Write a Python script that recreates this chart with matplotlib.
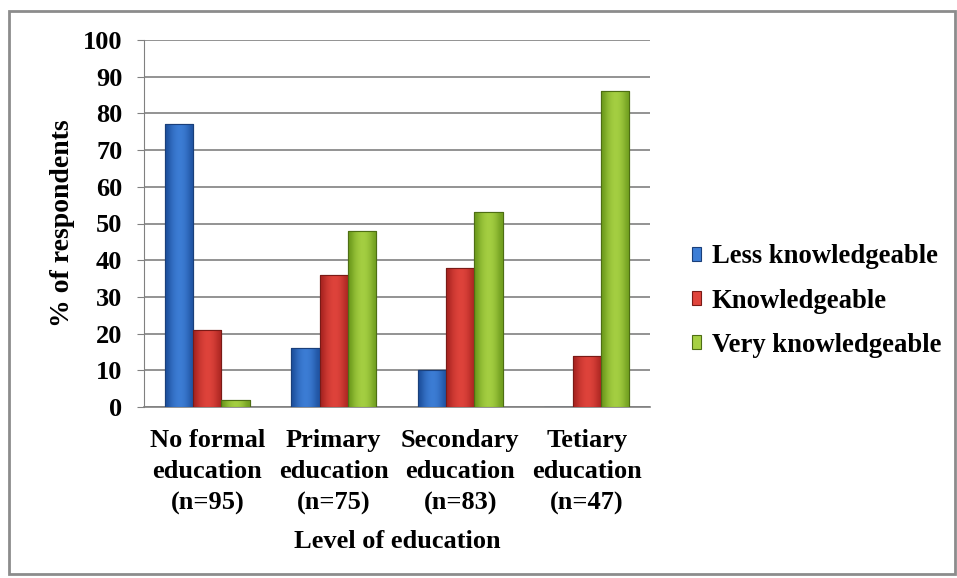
import numpy as np
import matplotlib
matplotlib.use("Agg")
import matplotlib.pyplot as plt
from matplotlib.colors import LinearSegmentedColormap
from matplotlib.patches import Rectangle

plt.rcParams['font.family'] = ['Liberation Serif', 'DejaVu Serif']
plt.rcParams['font.weight'] = 'bold'

categories = ["No formal\neducation\n(n=95)", "Primary\neducation\n(n=75)",
              "Secondary\neducation\n(n=83)", "Tetiary\neducation\n(n=47)"]
series_names = ["Less knowledgeable", "Knowledgeable", "Very knowledgeable"]
less_knowledgeable = [77, 16, 10, 0]
knowledgeable = [21, 36, 38, 14]
very_knowledgeable = [2, 48, 53, 86]
yticks = [0, 10, 20, 30, 40, 50, 60, 70, 80, 90, 100]

# (edge, centre, outline) shades for the shaded bars
shades = [("#1d4f9c", "#3d7ed6", "#1a3f7a"),
          ("#a82420", "#e0443c", "#7a1a16"),
          ("#6c9a1c", "#a6d043", "#4e6e14")]

fig = plt.figure(figsize=(9.57, 5.78), dpi=100)
fig.patch.set_facecolor("white")
fig.patches.append(Rectangle((9 / 957, 4 / 578), 946 / 957, 563 / 578,
                             transform=fig.transFigure, fill=False,
                             edgecolor="#8c8c8c", linewidth=2))

ax = fig.add_axes([144 / 957, 1 - 407 / 578, 506 / 957, 367 / 578])
x = np.arange(len(categories))
width = 0.223
data = [less_knowledgeable, knowledgeable, very_knowledgeable]

grad = np.array([0.0, 0.55, 0.85, 1.0, 0.9, 0.6, 0.1]).reshape(1, -1)
for i, (vals, name) in enumerate(zip(data, series_names)):
    edge, mid, line = shades[i]
    bars = ax.bar(x + (i - 1) * width, vals, width, color=mid, edgecolor=line,
                  linewidth=0.8, label=name, zorder=3)
    cmap = LinearSegmentedColormap.from_list(name, [edge, mid])
    for b in bars:
        if b.get_height() <= 0:
            continue
        bx, by = b.get_x(), b.get_y()
        im = ax.imshow(grad, cmap=cmap, vmin=0, vmax=1, aspect="auto",
                       extent=[bx, bx + b.get_width(), by, by + b.get_height()],
                       interpolation="bicubic", zorder=3.5)
        im.set_clip_path(b)
        ax.add_patch(Rectangle((bx, by), b.get_width(), b.get_height(),
                               fill=False, edgecolor=line, linewidth=0.8, zorder=4))

ax.set_xlim(-0.5, 3.5)
ax.set_ylim(0, 100)
ax.set_yticks(yticks)
ax.tick_params(axis="y", labelsize=19, length=5, color="#808080", pad=10.5)
ax.tick_params(axis="x", length=0, labelsize=19, pad=16)
ax.set_xticks(x)
ax.set_xticklabels(categories, linespacing=1.45)
ax.yaxis.grid(True, color="#808080", linewidth=1.2, zorder=0)
ax.set_axisbelow(True)
for s in ["top", "right"]:
    ax.spines[s].set_visible(False)
ax.spines["left"].set_color("#808080")
ax.spines["bottom"].set_color("#808080")
ax.spines["bottom"].set_linewidth(1.2)

ax.set_xlabel("Level of education", fontsize=19, fontweight="bold", labelpad=11)
ax.set_ylabel("% of respondents", fontsize=20, fontweight="bold", labelpad=6)

leg = ax.legend(loc="center left", bbox_to_anchor=(692 / 957, 1 - 301 / 578),
                bbox_transform=fig.transFigure, frameon=False, fontsize=19.2,
                handlelength=0.35, handleheight=0.4, handletextpad=0.4,
                labelspacing=0.72, borderaxespad=0, borderpad=0)

fig.savefig("out.png", dpi=100, facecolor="white")
